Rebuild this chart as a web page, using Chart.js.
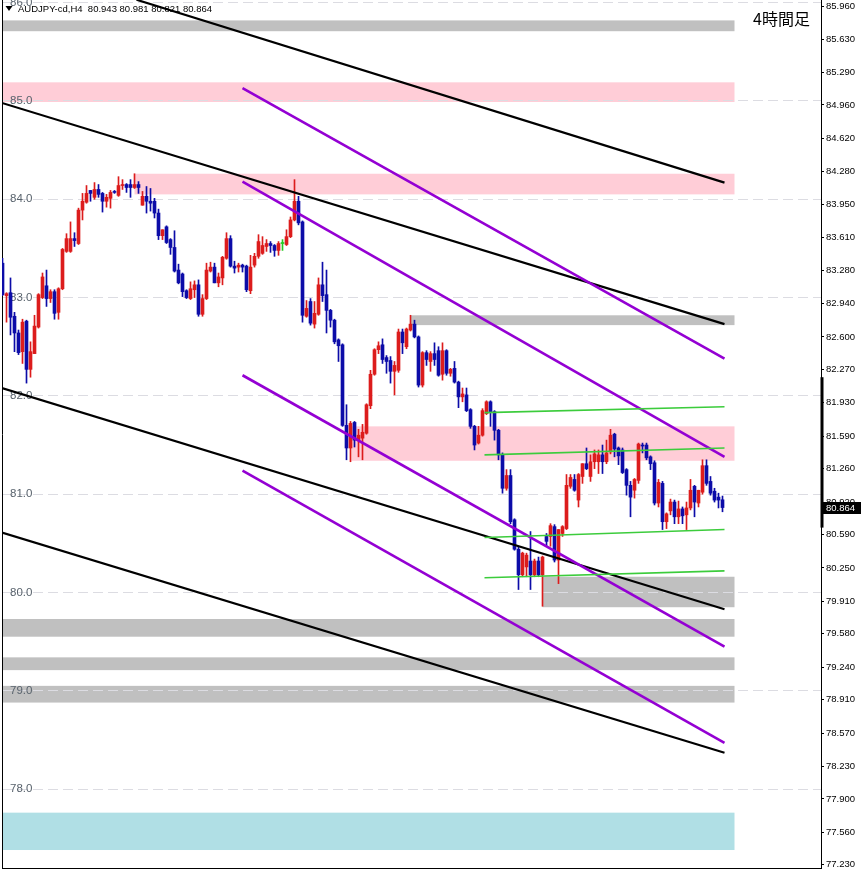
<!DOCTYPE html>
<html>
<head>
<meta charset="utf-8">
<title>AUDJPY H4</title>
<script src="https://cdn.jsdelivr.net/npm/chart.js@4.4.0/dist/chart.umd.min.js"></script>
<style>
html, body { margin: 0; padding: 0; background: #fff; }
#wrap { width: 861px; height: 871px; position: relative; }
</style>
</head>
<body>
<div id="wrap"><canvas id="audjpyChart"></canvas></div>
<script>
// AUDJPY-cd H4 candles, oldest first
var opens = [83.35,83.02,83.05,82.81,82.64,82.45,82.76,82.27,82.43,82.70,
  83.00,83.12,82.99,83.06,82.85,83.09,83.47,83.47,83.60,83.55,
  83.89,83.97,84.09,84.02,84.10,84.06,83.98,84.01,84.08,84.04,
  84.14,84.15,84.15,84.12,84.15,83.94,84.03,83.98,83.98,83.86,
  83.63,83.72,83.59,83.51,83.28,83.24,83.07,82.99,83.08,83.13,
  82.83,82.99,83.27,83.31,83.15,83.20,83.40,83.60,83.32,83.31,
  83.33,83.32,83.07,83.33,83.42,83.45,83.52,83.55,83.53,83.48,
  83.55,83.54,83.62,83.79,83.98,83.77,82.81,82.96,82.73,82.83,
  83.13,83.03,82.87,82.77,82.57,82.52,81.70,81.47,81.73,81.55,
  81.57,81.62,81.90,82.22,82.47,82.52,82.39,82.36,82.25,82.26,
  82.65,82.50,82.67,82.73,82.60,82.11,82.44,82.35,82.43,82.46,
  82.22,82.46,82.23,82.28,82.14,81.99,82.01,81.86,81.69,81.52,
  81.60,81.82,81.94,81.84,81.65,81.40,81.06,81.19,80.74,80.44,
  80.18,80.26,80.32,80.18,80.32,80.18,80.57,80.57,80.67,80.33,
  80.60,80.65,81.08,81.15,80.94,81.18,81.31,81.18,81.33,81.33,
  81.40,81.33,81.43,81.61,81.47,81.45,81.25,81.09,81.04,81.14,
  81.50,81.50,81.38,81.32,80.91,81.11,80.72,80.83,80.92,80.77,
  80.85,80.79,80.86,81.08,80.91,81.02,81.29,81.13,81.03,80.97,
  80.943];
var highs = [83.40,83.05,83.20,82.85,82.67,82.78,82.77,82.55,82.82,83.04,
  83.25,83.28,83.08,83.08,83.10,83.50,83.65,83.77,83.66,83.91,
  84.06,84.14,84.09,84.17,84.15,84.07,84.05,84.09,84.09,84.23,
  84.20,84.16,84.20,84.26,84.18,84.08,84.13,84.11,84.01,83.90,
  83.69,83.73,83.60,83.68,83.34,83.25,83.08,83.16,83.17,83.18,
  83.03,83.35,83.36,83.35,83.25,83.42,83.66,83.63,83.37,83.35,
  83.34,83.33,83.43,83.45,83.64,83.62,83.59,83.57,83.54,83.57,
  83.59,83.69,83.82,84.20,84.03,83.78,82.97,82.99,82.96,83.20,
  83.36,83.28,82.88,82.78,82.58,82.53,81.91,81.74,81.74,81.66,
  81.71,81.92,82.26,82.48,82.55,82.58,82.41,82.40,82.35,82.68,
  82.68,82.69,82.82,82.77,82.61,82.45,82.46,82.45,82.54,82.50,
  82.54,82.47,82.28,82.35,82.15,82.08,82.08,81.87,81.70,81.69,
  81.87,81.95,81.95,81.85,81.66,81.42,81.25,81.25,80.75,80.47,
  80.41,80.40,80.62,80.34,80.36,80.37,80.60,80.70,80.69,80.64,
  80.68,81.20,81.20,81.20,81.21,81.31,81.47,81.40,81.45,81.45,
  81.50,81.55,81.66,81.62,81.48,81.47,81.26,81.13,81.16,81.52,
  81.52,81.52,81.39,81.34,81.15,81.13,80.81,80.95,80.94,80.93,
  80.87,80.92,81.15,81.09,81.04,81.35,81.35,81.18,81.06,81.01,
  80.981];
var lows = [83.02,82.75,82.62,82.45,82.42,82.33,82.13,82.19,82.43,82.69,
  82.99,82.91,82.95,82.78,82.78,83.08,83.46,83.46,83.52,83.54,
  83.79,83.96,83.98,84.00,84.02,83.87,83.92,83.91,84.06,84.03,
  84.10,84.07,84.02,84.11,84.06,83.94,83.86,83.88,83.81,83.59,
  83.59,83.55,83.44,83.26,83.14,83.01,82.99,82.98,83.00,82.81,
  82.81,82.98,83.26,83.15,83.11,83.13,83.39,83.31,83.25,83.26,
  83.26,83.06,83.04,83.31,83.40,83.44,83.47,83.46,83.42,83.43,
  83.48,83.53,83.61,83.78,83.74,82.75,82.80,82.72,82.69,82.82,
  82.96,82.64,82.70,82.53,82.35,81.69,81.35,81.33,81.48,81.38,
  81.35,81.61,81.87,82.21,82.43,82.33,82.23,82.13,82.01,82.24,
  82.43,82.48,82.66,82.59,82.09,82.09,82.31,82.25,82.31,82.20,
  82.16,82.21,82.20,82.13,81.88,81.94,81.84,81.67,81.45,81.51,
  81.59,81.81,81.69,81.55,81.35,81.01,81.04,80.70,80.43,80.03,
  80.16,80.16,80.03,80.16,80.16,79.86,80.47,80.47,80.31,80.09,
  80.57,80.64,81.06,81.03,80.87,81.11,81.25,81.13,81.26,81.21,
  81.21,81.31,81.41,81.38,81.30,81.21,80.99,80.77,80.96,81.11,
  81.42,81.35,81.25,80.89,80.87,80.64,80.65,80.79,80.70,80.70,
  80.70,80.64,80.84,80.77,80.87,81.00,81.09,80.99,80.92,80.86,
  80.821];
var closes = [83.03,83.04,82.80,82.64,82.44,82.75,82.27,82.45,82.71,83.03,
  83.21,82.99,83.06,82.84,83.09,83.49,83.60,83.60,83.58,83.89,
  83.98,84.06,84.06,84.10,84.05,83.98,84.02,84.07,84.07,84.14,
  84.15,84.12,84.12,84.15,84.12,84.03,83.98,83.96,83.86,83.63,
  83.69,83.56,83.51,83.27,83.15,83.06,83.00,83.09,83.13,82.83,
  82.99,83.28,83.31,83.15,83.21,83.41,83.60,83.32,83.30,83.33,
  83.31,83.08,83.31,83.42,83.57,83.53,83.55,83.53,83.48,83.55,
  83.55,83.62,83.79,83.98,83.76,82.82,82.89,82.74,82.84,83.13,
  83.02,82.87,82.77,82.55,82.51,81.70,81.47,81.72,81.55,81.60,
  81.63,81.91,82.22,82.47,82.51,82.37,82.35,82.25,82.31,82.65,
  82.54,82.68,82.73,82.60,82.11,82.44,82.37,82.43,82.37,82.21,
  82.46,82.23,82.27,82.14,81.99,82.02,81.85,81.69,81.50,81.60,
  81.85,81.94,81.84,81.65,81.40,81.06,81.19,80.72,80.44,80.18,
  80.40,80.38,80.18,80.32,80.18,80.36,80.52,80.68,80.33,80.64,
  80.67,81.09,81.17,81.04,81.20,81.31,81.26,81.33,81.41,81.40,
  81.33,81.42,81.60,81.46,81.39,81.22,81.09,80.97,81.15,81.51,
  81.49,81.37,81.31,80.91,81.12,80.72,80.80,80.92,80.77,80.85,
  80.78,80.86,81.04,80.92,81.04,81.29,81.11,81.01,80.94,80.94,
  80.864];

// price axis labels (right) and round-number levels (left)
var priceTicks = [85.96,85.63,85.29,84.96,84.62,84.28,83.95,83.61,83.28,82.94,82.60,82.27,81.93,
  81.59,81.26,80.92,80.59,80.25,79.91,79.58,79.24,78.91,78.57,78.23,77.90,77.56,77.23];
var roundLevels = [78, 79, 80, 81, 82, 83, 84, 85, 86];

// supply / demand zones: price top, price bottom, first and last bar index
var zoneTop    = [85.82, 85.19, 84.26, 82.82, 81.69, 80.16, 79.73, 79.34, 79.05, 77.76];
var zoneBottom = [85.71, 84.99, 84.05, 82.72, 81.34, 79.85, 79.55, 79.21, 78.88, 77.38];
var zoneFrom   = [-0.125, -0.125, 33, 102, 87.25, 135, -0.125, -0.125, -0.125, -0.125];
var zoneTo     = [183, 183, 183, 183, 183, 183, 183, 183, 183, 183];
var zoneKind   = ['gray', 'pink', 'pink', 'gray', 'pink', 'gray', 'gray', 'gray', 'gray', 'cyan'];

// channel lines: price at the start bar and at the end bar
var lineEndBar = 180.5;
var blackStartBar = [33.5, -0.125, -0.125, -0.125];
var blackFrom = [86.03, 84.98, 82.08, 80.61];
var blackTo   = [84.17, 82.73, 79.83, 78.37];
var purpleStartBar = 60;
var purpleFrom = [85.13, 84.18, 82.21, 81.24];
var purpleTo   = [82.38, 81.38, 79.45, 78.47];
var greenStartBar = 120.5;
var greenFrom = [81.83, 81.40, 80.56, 80.15];
var greenTo   = [81.89, 81.47, 80.64, 80.22];

// marker on the price scale
var scaleMarker = [80.66, 82.19];

var RED = '#dc1c1c', BLUE = '#0c0ca8', DOJI = '#22cc22';
var zoneColors = { gray: '#c0c0c0', pink: '#ffcdd7', cyan: '#b0dfe5' };
var yMin = 77.197, yMax = 86.0275;

var bars = opens.map(function (o, i) { return i; });
var bodies = bars.map(function (i) {
  return { x: i, y: [Math.min(opens[i], closes[i]), Math.max(opens[i], closes[i])] };
});
var wicks = bars.map(function (i) { return { x: i, y: [lows[i], highs[i]] }; });
var candleColors = bars.map(function (i) {
  return closes[i] > opens[i] ? RED : (closes[i] < opens[i] ? BLUE : DOJI);
});

function trendLine(startBar, from, to, color, width) {
  return {
    type: 'line',
    data: [{ x: startBar, y: from }, { x: lineEndBar, y: to }],
    borderColor: color,
    borderWidth: width,
    pointRadius: 0,
    tension: 0,
    fill: false,
    order: 0
  };
}

var datasets = [];
greenFrom.forEach(function (v, i) { datasets.push(trendLine(greenStartBar, v, greenTo[i], '#3ccc3c', 1.6)); });
purpleFrom.forEach(function (v, i) { datasets.push(trendLine(purpleStartBar, v, purpleTo[i], '#9400d3', 2.6)); });
blackFrom.forEach(function (v, i) { datasets.push(trendLine(blackStartBar[i], v, blackTo[i], '#000000', 2.2)); });
datasets.push({
  type: 'bar', data: bodies, backgroundColor: candleColors, barThickness: 3,
  minBarLength: 1, grouped: false, order: 1
});
datasets.push({
  type: 'bar', data: wicks, backgroundColor: candleColors, barThickness: 1,
  grouped: false, order: 2
});

var overlay = {
  id: 'overlay',
  beforeDraw: function (chart) {
    var ctx = chart.ctx, xs = chart.scales.x, ys = chart.scales.y, a = chart.chartArea;
    ctx.save();
    ctx.beginPath();
    ctx.rect(a.left, a.top, a.right - a.left, a.bottom - a.top);
    ctx.clip();
    zoneTop.forEach(function (top, i) {
      var x0 = xs.getPixelForValue(zoneFrom[i]), x1 = xs.getPixelForValue(zoneTo[i]);
      var y0 = ys.getPixelForValue(top), y1 = ys.getPixelForValue(zoneBottom[i]);
      ctx.fillStyle = zoneColors[zoneKind[i]];
      ctx.fillRect(x0, y0, x1 - x0, y1 - y0);
    });
    ctx.restore();
  },
  beforeDatasetsDraw: function (chart) {
    var ctx = chart.ctx;
    var n = closes.length - 1;
    ctx.save();
    // header
    ctx.fillStyle = '#000';
    ctx.beginPath();
    ctx.moveTo(5.5, 6); ctx.lineTo(12.5, 6); ctx.lineTo(9, 11); ctx.closePath();
    ctx.fill();
    ctx.font = '9.5px "Liberation Sans", Arial, sans-serif';
    ctx.textBaseline = 'middle';
    ctx.textAlign = 'left';
    ctx.fillText('AUDJPY-cd,H4  ' + opens[n].toFixed(3) + ' ' + highs[n].toFixed(3) + ' ' +
      lows[n].toFixed(3) + ' ' + closes[n].toFixed(3), 18, 9.5);
    ctx.font = '16px "Noto Sans CJK JP", sans-serif';
    ctx.fillText('4時間足', 753, 19);
    ctx.restore();
  },
  afterDraw: function (chart) {
    var ctx = chart.ctx, ys = chart.scales.y, a = chart.chartArea;
    ctx.save();
    ctx.fillStyle = '#000';
    var m0 = ys.getPixelForValue(scaleMarker[1]), m1 = ys.getPixelForValue(scaleMarker[0]);
    ctx.fillRect(a.right - 0.5, m0, 3, m1 - m0);
    var last = closes[closes.length - 1];
    var py = ys.getPixelForValue(last);
    ctx.fillRect(a.right + 1, Math.round(py) - 6, 40, 12);
    ctx.fillStyle = '#fff';
    ctx.font = '9.5px "Liberation Sans", Arial, sans-serif';
    ctx.textBaseline = 'middle';
    ctx.textAlign = 'left';
    ctx.fillText(last.toFixed(3), a.right + 5, Math.round(py) + 0.5);
    ctx.restore();
  }
};

new Chart(document.getElementById('audjpyChart').getContext('2d'), {
  type: 'bar',
  data: { datasets: datasets },
  options: {
    responsive: true,
    maintainAspectRatio: false,
    animation: false,
    events: [],
    layout: { padding: { left: 0, right: 0, top: 0, bottom: 3 } },
    plugins: { legend: { display: false }, tooltip: { enabled: false } },
    scales: {
      x: {
        type: 'linear', min: -0.125, max: 204.625, offset: false,
        ticks: { display: false },
        grid: { display: false, drawTicks: false },
        border: { display: true, color: '#000', width: 1 },
        afterFit: function (s) { s.height = 0; s.paddingLeft = 0; s.paddingRight = 0; }
      },
      y: {
        type: 'linear', position: 'right', min: yMin, max: yMax,
        afterBuildTicks: function (s) { s.ticks = priceTicks.map(function (v) { return { value: v }; }); },
        ticks: {
          color: '#000', padding: 2,
          font: { family: '"Liberation Sans", Arial, sans-serif', size: 9.5 },
          callback: function (v) { return Number(v).toFixed(3); }
        },
        grid: { drawOnChartArea: false, drawTicks: true, tickLength: 3, color: '#000' },
        border: { color: '#000', width: 1 },
        afterFit: function (s) { s.width = 40; s.paddingTop = 0; s.paddingBottom = 0; }
      },
      yg: {
        type: 'linear', position: 'left', min: yMin, max: yMax,
        afterBuildTicks: function (s) { s.ticks = roundLevels.map(function (v) { return { value: v }; }); },
        ticks: {
          mirror: true, padding: 8, color: '#58626c',
          font: { family: '"Liberation Sans", Arial, sans-serif', size: 11.5 },
          callback: function (v) { return Number(v).toFixed(1); }
        },
        grid: { color: '#dcdce2', drawTicks: false, lineWidth: 1 },
        border: { color: '#000', width: 1, dash: [10, 5] },
        afterFit: function (s) { s.width = 2; s.paddingTop = 0; s.paddingBottom = 0; }
      }
    }
  },
  plugins: [overlay]
});
</script>
</body>
</html>
